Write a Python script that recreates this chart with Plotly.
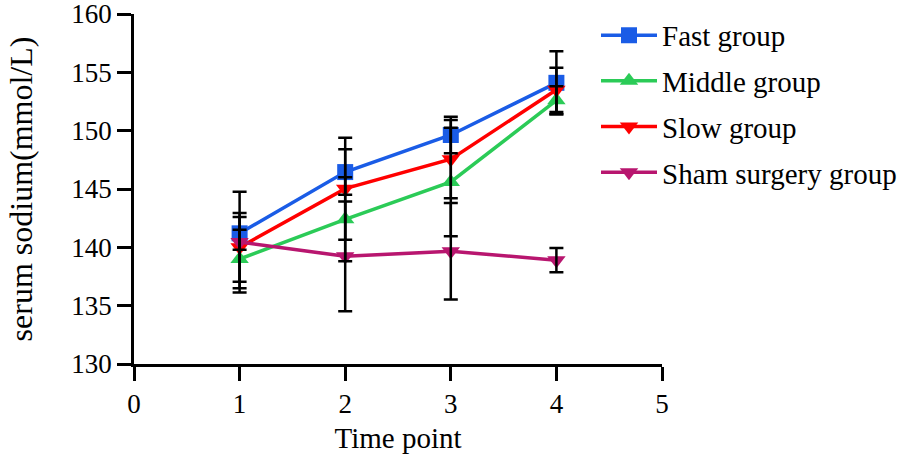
import plotly.graph_objects as go

time_points = [1, 2, 3, 4]
groups = ["Fast group", "Middle group", "Slow group", "Sham surgery group"]

fast_mean = [141.2, 146.45, 149.63, 154.1]
fast_sd = [1.4, 1.95, 1.57, 2.7]

middle_mean = [139.0, 142.4, 145.6, 152.6]
middle_sd = [2.5, 3.6, 4.65, 1.2]

slow_mean = [140.0, 145.03, 147.56, 153.5]
slow_sd = [2.95, 4.37, 3.35, 1.9]

sham_mean = [140.45, 139.23, 139.66, 138.9]
sham_sd = [4.32, 4.7, 4.13, 1.04]

means = [fast_mean, middle_mean, slow_mean, sham_mean]
sds = [fast_sd, middle_sd, slow_sd, sham_sd]
colors = ["#1A5CE6", "#2BCB57", "#FF0000", "#B8166F"]
symbols = ["square", "triangle-up", "triangle-down", "triangle-down"]

FONT = "Liberation Serif"

fig = go.Figure()
for name, m, c, s in zip(groups, means, colors, symbols):
    fig.add_trace(go.Scatter(
        x=time_points, y=m, name=name, legendgroup=name,
        mode="lines+markers",
        line=dict(color=c, width=3.5),
        marker=dict(symbol=s, size=16, color=c),
    ))

for name, m, sd in zip(groups, means, sds):
    fig.add_trace(go.Scatter(
        x=time_points, y=m, mode="markers", showlegend=False,
        marker=dict(size=1, color="rgba(0,0,0,0)"),
        error_y=dict(type="data", array=sd, visible=True,
                     color="black", thickness=2.5, width=7),
        hoverinfo="skip",
    ))

fig.update_layout(
    width=898, height=456,
    margin=dict(l=134, r=236, t=14, b=92, autoexpand=False),
    paper_bgcolor="white", plot_bgcolor="white",
    font=dict(family=FONT, size=26, color="black"),
    legend=dict(x=0.875, y=1.012, xanchor="left", yanchor="top",
                font=dict(family=FONT, size=29, color="black"),
                itemwidth=56, tracegroupgap=5, bgcolor="rgba(0,0,0,0)"),
    showlegend=True,
)
fig.update_xaxes(
    range=[0, 5], tickvals=[0, 1, 2, 3, 4, 5],
    showgrid=False, zeroline=False, automargin=False,
    showline=True, linecolor="black", linewidth=2.5,
    ticks="outside", ticklen=14, tickwidth=2.5, tickcolor="black",
    tickfont=dict(family=FONT, size=27), ticklabeloverflow="allow",
    title=dict(text="Time point", font=dict(family=FONT, size=29), standoff=10),
)
fig.update_yaxes(
    range=[130, 160], tickvals=[130, 135, 140, 145, 150, 155, 160],
    showgrid=False, zeroline=False, automargin=False,
    showline=True, linecolor="black", linewidth=2.5,
    ticks="outside", ticklen=14, tickwidth=2.5, tickcolor="black",
    tickfont=dict(family=FONT, size=27), ticklabeloverflow="allow",
    title=dict(text="serum sodium(mmol/L)", font=dict(family=FONT, size=32), standoff=30),
)

fig.write_html("out.html",
               config={"displayModeBar": False},
               post_script="document.body.style.margin='0px';document.body.style.overflow='hidden';")
